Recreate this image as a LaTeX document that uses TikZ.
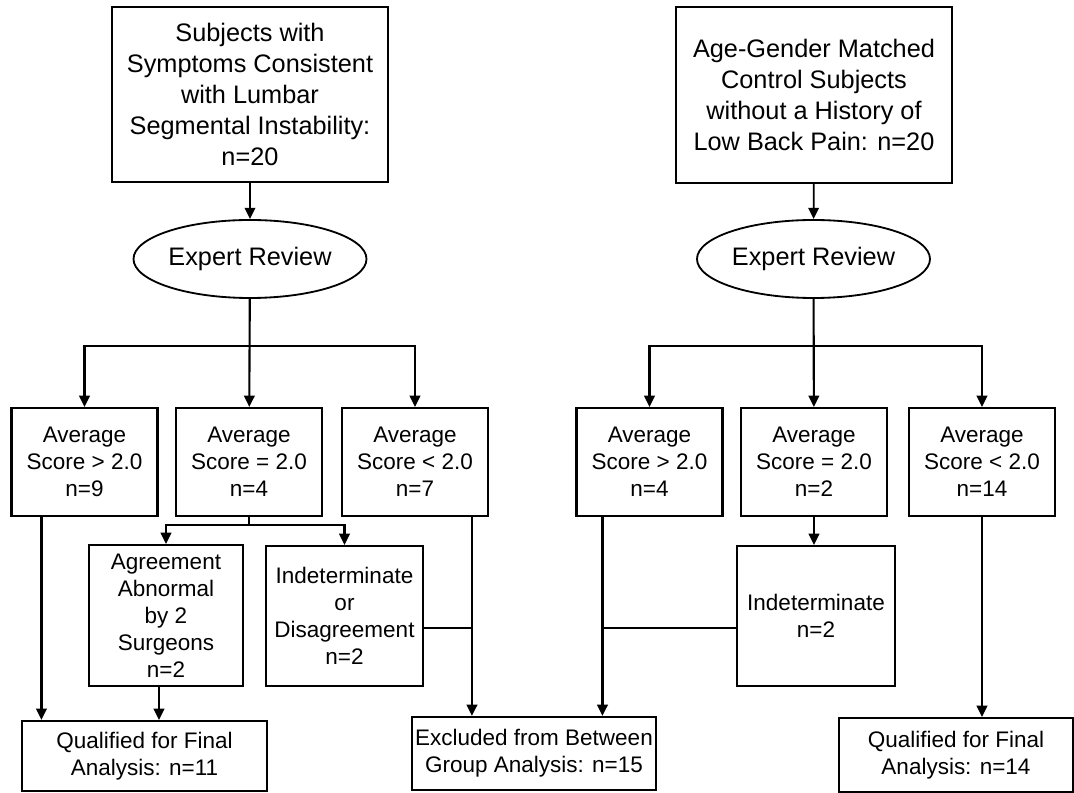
\documentclass[tikz,border=0pt]{standalone}
\usepackage{fontspec}
\setmainfont{Liberation Sans}
\usetikzlibrary{shapes.geometric,arrows.meta,calc}

\begin{document}
\begin{tikzpicture}[x=0.025cm,y=-0.025cm,line width=1.5pt,
  box/.style 2 args={draw,align=center,inner sep=0pt,minimum width=#1*0.025cm,minimum height=#2*0.025cm,font=\fontsize{16}{19.2}\selectfont},
  bigbox/.style 2 args={box={#1}{#2},line width=1.3pt,font=\fontsize{18}{22}\selectfont},
  review/.style={draw,ellipse,inner sep=0pt,line width=1.3pt,minimum width=233*0.025cm,minimum height=78*0.025cm,font=\fontsize{18}{22}\selectfont},
  arr/.style={-{Triangle[length=8pt,width=7.5pt]}}]
\useasboundingbox (0,0) rectangle (1074,793);
\node[bigbox={276}{175}] (subj) at (250,94.5) {Subjects with\\Symptoms Consistent\\with Lumbar\\Segmental Instability:\\n=20};
\node[bigbox={276}{176}] (ctrl) at (814,95) {Age-Gender Matched\\Control Subjects\\without a History of\\Low Back Pain: n=20};
\node[review] (revl) at (250,259) {Expert Review};
\node[review] (revr) at (813.5,259) {Expert Review};
\node[box={146}{108}] (gtl) at (84.5,462) {Average\\Score > 2.0\\n=9};
\node[box={146}{108}] (eql) at (249,462) {Average\\Score = 2.0\\n=4};
\node[box={146}{108}] (ltl) at (415,462) {Average\\Score < 2.0\\n=7};
\node[box={146}{108}] (gtr) at (649.5,462) {Average\\Score > 2.0\\n=4};
\node[box={146}{108}] (eqr) at (814,462) {Average\\Score = 2.0\\n=2};
\node[box={146}{108}] (ltr) at (982,462) {Average\\Score < 2.0\\n=14};
\node[box={154}{141}] (agree) at (166,615.5) {Agreement\\Abnormal\\by 2\\Surgeons\\n=2};
\node[box={157}{140}] (indis) at (344.5,616) {Indeterminate\\or\\Disagreement\\n=2};
\node[box={158}{140}] (indet) at (816,616) {Indeterminate\\n=2};
\node[box={245}{70}] (quall) at (144.5,756) {Qualified for Final\\Analysis: n=11};
\node[box={244}{73}] (excl) at (534,753.5) {Excluded from Between\\Group Analysis: n=15};
\node[box={234}{74}] (qualr) at (956,755) {Qualified for Final\\Analysis: n=14};
\draw[arr,line width=1.3pt] (subj) -- (revl);
\draw[arr,line width=1.3pt] (ctrl) -- (revr);
\coordinate (brl) at (revl.south |- 0,346);
\coordinate (brr) at (revr.south |- 0,346);
\draw[arr] (revl) -- (eql);
\draw[arr] (brl) -| (gtl);
\draw[arr] (brl) -| (ltl);
\draw[arr] (revr) -- (eqr);
\draw[arr] (brr) -| (gtr);
\draw[arr] (brr) -| (ltr);
\coordinate (brm) at (eql.south |- 0,525);
\draw (eql) -- (brm);
\draw[arr] (brm) -| (agree);
\draw[arr] (brm) -| (indis);
\coordinate (g1) at ($(gtl.south west)+(31,0)$);
\draw[arr] (g1) -- (g1 |- quall.north);
\coordinate (a1) at ($(agree.south)+(-7,0)$);
\draw[arr] (a1) -- (a1 |- quall.north);
\coordinate (l1) at ($(ltl.south west)+(131,0)$);
\draw[arr] (l1) -- (l1 |- excl.north);
\coordinate (d1) at ($(indis.east)+(0,12)$);
\draw (d1) -- (d1 -| l1);
\coordinate (g2) at ($(gtr.south west)+(27,0)$);
\draw[arr] (g2) -- (g2 |- excl.north);
\coordinate (d2) at ($(indet.west)+(0,12)$);
\draw (d2) -- (d2 -| g2);
\draw[arr] (eqr.south) -- (eqr.south |- indet.north);
\draw[arr] (ltr.south) -- (ltr.south |- qualr.north);
\end{tikzpicture}
\end{document}
